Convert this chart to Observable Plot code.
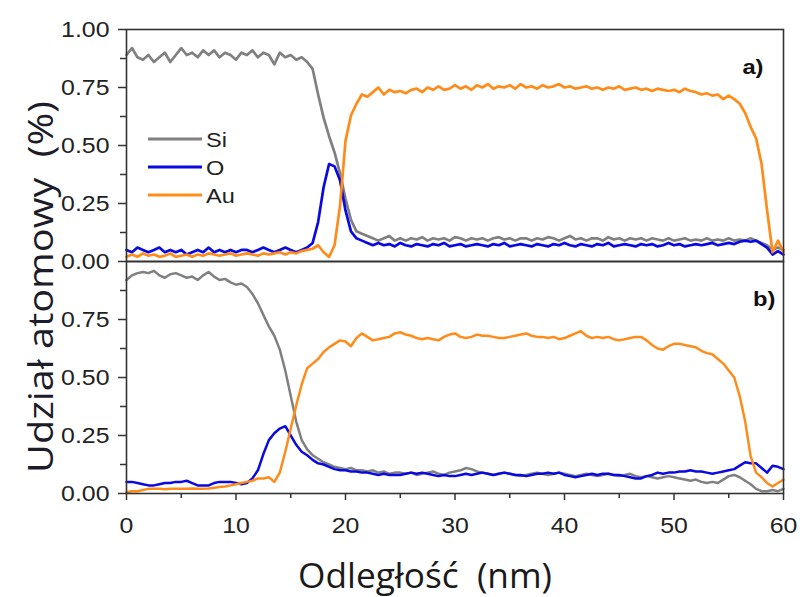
<!DOCTYPE html>
<html><head><meta charset="utf-8">
<script src="https://cdn.jsdelivr.net/npm/d3@7"></script>
<script src="https://cdn.jsdelivr.net/npm/@observablehq/plot@0.6"></script>
<style>
body{margin:0;background:#fff}
#c{position:relative;width:800px;height:597px;}
#c > svg{position:absolute;left:0;}
</style></head><body><div id="c"></div>
<script>
// ---- data ----
const distance = d3.range(121).map(i => i * 0.5); // nm, sampling of the profiles
const elements = ["Si", "O", "Au"];
const colors = ["#808080", "#0a0ae0", "#ff8c1a"];
const panels = ["a)", "b)"];
const xTicks = [0, 10, 20, 30, 40, 50, 60];
const xMinor = [5, 15, 25, 35, 45, 55];
const yTicksA = [0, 0.25, 0.5, 0.75, 1.0];
const yTicksB = [0, 0.25, 0.5, 0.75];
const yMinor = [0.125, 0.375, 0.625, 0.875];

const siA = [0.89,0.92,0.88,0.87,0.89,0.86,0.88,0.90,0.86,0.89,
0.92,0.89,0.90,0.88,0.91,0.89,0.91,0.88,0.90,0.89,
0.87,0.90,0.89,0.91,0.88,0.90,0.89,0.85,0.90,0.88,
0.89,0.87,0.88,0.86,0.83,0.72,0.62,0.54,0.47,0.38,
0.27,0.18,0.13,0.12,0.11,
0.10,0.09,0.10,0.11,0.09,0.10,0.09,0.10,0.095,0.105,
0.09,0.10,0.095,0.10,0.09,0.105,0.10,0.09,0.10,0.095,
0.10,0.09,0.10,0.105,0.095,0.10,0.09,0.10,0.10,0.09,
0.10,0.095,0.105,0.10,0.09,0.10,0.11,0.095,0.10,0.09,
0.10,0.10,0.09,0.105,0.095,0.10,0.09,0.10,0.095,0.10,
0.09,0.10,0.095,0.09,0.10,0.09,0.095,0.10,0.09,0.095,
0.09,0.10,0.09,0.095,0.09,0.10,0.09,0.095,0.09,0.10,
0.09,0.08,0.07,0.05,0.06,0.05];
const oA = [0.05,0.04,0.06,0.05,0.04,0.05,0.06,0.04,0.05,0.04,
0.05,0.03,0.04,0.05,0.04,0.06,0.04,0.05,0.04,0.05,
0.04,0.05,0.05,0.04,0.05,0.06,0.05,0.04,0.05,0.06,
0.05,0.04,0.05,0.06,0.08,0.17,0.32,0.42,0.41,0.35,
0.22,0.13,0.10,0.09,0.08,
0.07,0.08,0.07,0.075,0.065,0.08,0.07,0.065,0.075,0.07,
0.065,0.075,0.07,0.08,0.065,0.07,0.075,0.065,0.07,0.075,
0.07,0.065,0.075,0.07,0.08,0.065,0.07,0.075,0.07,0.065,
0.075,0.07,0.065,0.075,0.07,0.08,0.07,0.065,0.075,0.07,
0.065,0.075,0.07,0.08,0.065,0.07,0.075,0.07,0.065,0.075,
0.07,0.075,0.065,0.07,0.08,0.07,0.075,0.065,0.07,0.075,
0.07,0.075,0.08,0.07,0.075,0.08,0.075,
0.085,0.09,0.085,0.09,0.075,0.06,0.03,0.045,0.03];
const auA = [0.02,0.03,0.02,0.035,0.025,0.03,0.02,0.025,0.035,0.02,
0.025,0.03,0.02,0.03,0.025,0.035,0.03,0.025,0.03,0.035,
0.025,0.03,0.035,0.03,0.025,0.035,0.03,0.035,0.04,0.03,
0.04,0.035,0.045,0.05,0.055,0.07,0.04,0.02,0.07,0.24,
0.52,0.63,0.68,0.72,0.71,0.73,0.75,0.72,0.74,0.73,
0.735,0.725,0.74,0.745,0.73,0.75,0.74,0.755,0.74,0.745,
0.76,0.745,0.755,0.74,0.76,0.75,0.765,0.745,0.755,0.75,
0.76,0.745,0.765,0.75,0.755,0.745,0.76,0.75,0.755,0.765,
0.75,0.755,0.745,0.75,0.755,0.745,0.75,0.74,0.75,0.745,
0.755,0.74,0.745,0.75,0.74,0.745,0.735,0.745,0.74,0.735,
0.74,0.73,0.745,0.735,0.73,0.72,0.725,0.715,0.72,0.70,
0.715,0.70,0.68,0.64,0.58,0.53,0.42,0.22,0.04,0.09,0.04];

const siB = [0.92,0.94,0.95,0.955,0.95,0.96,0.94,0.93,0.945,0.95,
0.94,0.93,0.935,0.92,0.94,0.955,0.935,0.92,0.925,0.91,
0.90,0.905,0.89,0.86,0.82,0.77,0.72,0.68,0.62,0.53,
0.42,0.31,0.23,0.19,0.165,0.15,0.135,0.125,0.115,0.11,
0.105,0.11,0.10,0.10,0.095,0.10,0.09,0.095,0.085,0.09,
0.09,0.085,0.09,0.08,0.085,0.09,0.095,0.085,0.08,0.09,
0.095,0.10,0.11,0.105,0.095,0.09,0.085,0.08,0.085,0.09,
0.085,0.08,0.075,0.08,0.085,0.09,0.085,0.08,0.085,0.09,
0.085,0.08,0.075,0.08,0.085,0.08,0.075,0.08,0.085,0.08,
0.075,0.08,0.085,0.075,0.07,0.075,0.07,0.065,0.07,0.075,
0.07,0.065,0.06,0.055,0.06,0.05,0.045,0.05,0.045,0.06,
0.075,0.08,0.07,0.055,0.04,0.02,0.01,0.01,0.015,0.01,
0.02];
const oB = [0.05,0.05,0.045,0.04,0.035,0.035,0.04,0.045,0.045,0.05,
0.05,0.055,0.045,0.035,0.035,0.035,0.045,0.05,0.05,0.05,
0.045,0.04,0.045,0.065,0.10,0.17,0.23,0.26,0.28,0.29,
0.25,0.21,0.18,0.165,0.145,0.13,0.125,0.115,0.105,0.10,
0.10,0.095,0.095,0.09,0.09,0.085,0.08,0.085,0.08,0.08,
0.08,0.085,0.09,0.085,0.09,0.085,0.08,0.075,0.08,0.075,
0.075,0.08,0.085,0.08,0.085,0.09,0.085,0.08,0.085,0.09,
0.085,0.08,0.08,0.075,0.08,0.085,0.085,0.09,0.085,0.09,
0.08,0.075,0.07,0.075,0.08,0.085,0.08,0.085,0.085,0.08,
0.08,0.075,0.07,0.065,0.065,0.075,0.08,0.09,0.085,0.09,
0.09,0.095,0.095,0.10,0.095,0.095,0.09,0.085,0.09,0.095,
0.10,0.105,0.12,0.135,0.13,0.13,0.11,0.09,0.12,0.115,
0.105];
const auB = [0.005,0.01,0.01,0.015,0.02,0.02,0.02,0.018,0.02,0.02,
0.02,0.02,0.022,0.02,0.02,0.022,0.025,0.028,0.03,0.035,
0.04,0.045,0.05,0.055,0.065,0.065,0.07,0.05,0.09,0.18,
0.28,0.38,0.47,0.54,0.56,0.58,0.61,0.63,0.645,0.66,
0.655,0.635,0.67,0.69,0.675,0.66,0.665,0.67,0.675,0.69,
0.695,0.685,0.68,0.67,0.665,0.67,0.665,0.66,0.675,0.685,
0.69,0.675,0.67,0.675,0.685,0.68,0.68,0.675,0.67,0.67,
0.675,0.68,0.685,0.69,0.68,0.675,0.675,0.67,0.675,0.665,
0.67,0.68,0.69,0.70,0.68,0.67,0.675,0.67,0.675,0.665,
0.66,0.665,0.67,0.675,0.675,0.66,0.64,0.625,0.62,0.635,
0.645,0.645,0.64,0.635,0.63,0.615,0.605,0.60,0.58,0.56,
0.53,0.50,0.42,0.31,0.16,0.09,0.07,0.045,0.03,0.045,
0.06];

const xTitle = "Odległość\u00a0 (nm)";
const yTitle = "Udział atomowy\u00a0 (%)";

// ---- build tables ----
function table(series) {
  const rows = [];
  series.forEach((vals, k) => vals.forEach((v, i) => rows.push({x: distance[i], el: elements[k], v})));
  return rows;
}
const dataA = table([siA, oA, auA]);
const dataB = table([siB, oB, auB]);

const W = 800, ML = 126, MR = 17, TOPH = 261;
const font = "Arial, 'Liberation Sans', sans-serif";
const common = {
  width: W, marginLeft: ML, marginRight: MR,
  x: {domain: [0, 60], axis: null},
  y: {domain: [0, 1], axis: null},
  color: {domain: elements, range: colors},
  style: {overflow: "visible", background: "transparent", fontFamily: font, fontSize: "22px", color: "#222"}
};
const fmt = d3.format(".2f");

const plotA = Plot.plot({
  ...common, height: TOPH, marginTop: 29, marginBottom: 0,
  marks: [
    Plot.line(dataA, {x: "x", y: "v", z: "el", stroke: "el", strokeWidth: 2.7}),
    Plot.frame({stroke: "#333", strokeWidth: 1.6}),
    Plot.axisY(yTicksA, {tickSize: 8, tickPadding: 9, fontSize: 22, tickFormat: fmt, label: null, strokeWidth: 1.5, stroke: "#333"}),
    Plot.axisY(yMinor, {tickSize: 6, tickFormat: () => "", label: null, strokeWidth: 1.5, stroke: "#333"}),
    Plot.text([panels[0]], {text: d => d, frameAnchor: "top-right", dx: -20, dy: 30, textAnchor: "end", fontSize: 21, fontWeight: "bold", fill: "#111"})
  ]
});
plotA.style.top = "0px";

const plotB = Plot.plot({
  ...common, height: 597 - TOPH, marginTop: 0, marginBottom: 597 - TOPH - 232,
  marks: [
    Plot.line(dataB, {x: "x", y: "v", z: "el", stroke: "el", strokeWidth: 2.5}),
    Plot.frame({stroke: "#333", strokeWidth: 1.6}),
    Plot.axisY(yTicksB, {tickSize: 8, tickPadding: 9, fontSize: 22, tickFormat: fmt, label: null, strokeWidth: 1.5, stroke: "#333"}),
    Plot.axisY(yMinor, {tickSize: 6, tickFormat: () => "", label: null, strokeWidth: 1.5, stroke: "#333"}),
    Plot.axisX(xTicks, {tickSize: 7, tickPadding: 17, fontSize: 22, label: null, strokeWidth: 1.5, stroke: "#333"}),
    Plot.axisX(xMinor, {tickSize: 5, tickFormat: () => "", label: null, strokeWidth: 1.5, stroke: "#333"}),
    Plot.text([panels[1]], {text: d => d, frameAnchor: "top-right", dx: -8, dy: 30, textAnchor: "end", fontSize: 21, fontWeight: "bold", fill: "#111"})
  ]
});
plotB.style.top = TOPH + "px";

const c = document.getElementById("c");
c.appendChild(plotA);
c.appendChild(plotB);

// widen glyphs slightly, as in the (horizontally stretched) original
function stretch(root, k) {
  d3.select(root).selectAll("text").each(function () {
    const L = this.getComputedTextLength();
    if (L > 0) { this.setAttribute("textLength", L * k); this.setAttribute("lengthAdjust", "spacingAndGlyphs"); }
  });
}
stretch(plotA, 1.13);
stretch(plotB, 1.13);

// ---- overlay: titles and legend ----
const ov = d3.select(c).append("svg").attr("width", W).attr("height", 597)
  .style("top", "0px").style("pointer-events", "none");
ov.append("text").text(xTitle)
  .attr("x", 425).attr("y", 588).attr("text-anchor", "middle")
  .attr("font-family", "'Open Sans', 'Noto Sans', sans-serif").attr("font-size", 34)
  .attr("textLength", 254).attr("lengthAdjust", "spacingAndGlyphs")
  .attr("fill", "#1a1a1a");
ov.append("text").text(yTitle)
  .attr("transform", "translate(53,287) rotate(-90)").attr("text-anchor", "middle")
  .attr("font-family", "'Open Sans', 'Noto Sans', sans-serif").attr("font-size", 34)
  .attr("textLength", 372).attr("lengthAdjust", "spacingAndGlyphs")
  .attr("fill", "#1c1c2a");
const leg = ov.append("g");
elements.forEach((el, k) => {
  const y = 139 + k * 28;
  leg.append("line").attr("x1", 148).attr("x2", 202).attr("y1", y).attr("y2", y)
    .attr("stroke", colors[k]).attr("stroke-width", 3);
  leg.append("text").text(el).attr("x", 206).attr("y", y).attr("dy", "0.36em")
    .attr("font-family", font).attr("font-size", 21).attr("fill", "#222");
});
stretch(leg.node(), 1.12);
</script></body></html>
